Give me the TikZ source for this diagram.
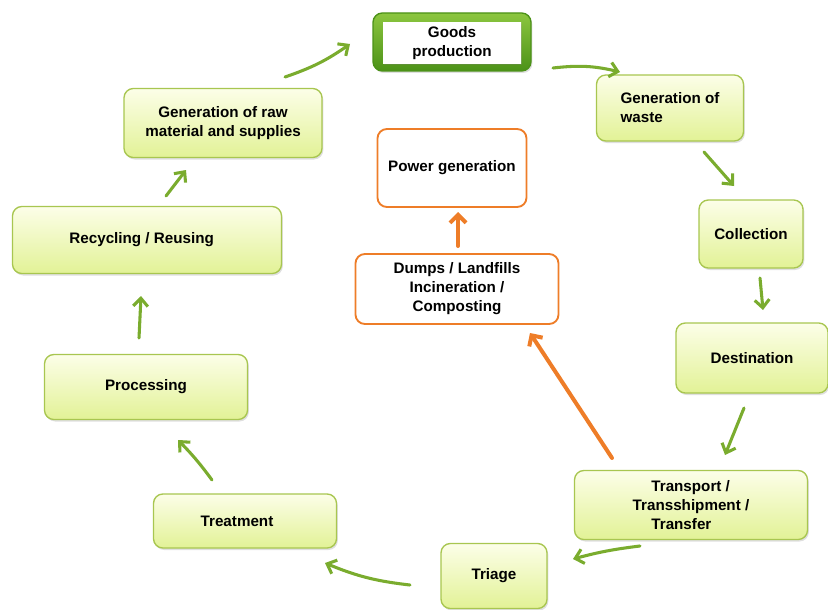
\documentclass[tikz,border=0pt]{standalone}
\usepackage{fontspec}
\setmainfont{Liberation Sans}
\usetikzlibrary{arrows.meta,shadows}

\definecolor{boxedge}{RGB}{168,198,80}
\definecolor{boxtop}{RGB}{252,254,232}
\definecolor{boxbottom}{RGB}{226,242,150}
\definecolor{leafgreen}{RGB}{122,172,46}
\definecolor{goodstop}{RGB}{140,198,63}
\definecolor{goodsbottom}{RGB}{76,146,24}
\definecolor{burnorange}{RGB}{238,125,40}

\tikzset{
  stagebox/.style={draw=boxedge, line width=1pt, rounded corners=7pt,
    top color=boxtop, bottom color=boxbottom,
    drop shadow={opacity=0.25, shadow xshift=1pt, shadow yshift=-1.5pt},
    font=\bfseries\fontsize{11.4}{14.2}\selectfont, inner sep=0pt, align=center},
  endbox/.style={draw=burnorange, line width=1.4pt, rounded corners=7pt, fill=white,
    font=\bfseries\fontsize{11.4}{14.2}\selectfont, inner sep=0pt, align=center},
  flow/.style={leafgreen, line width=2.3pt, line cap=round,
    -{Straight Barb[length=6pt,width=11pt,line width=2.3pt]}},
  heat/.style={burnorange, line width=3pt, line cap=round,
    -{Straight Barb[length=6pt,width=12pt,line width=3pt]}},
}

\begin{document}
\begin{tikzpicture}[x=0.75pt,y=0.75pt,yscale=-1,xscale=1]
\useasboundingbox (0,0) rectangle (828,610);

% cycle boxes
\node[draw=goodsbottom, line width=1pt, rounded corners=7pt, top color=goodstop, bottom color=goodsbottom,
  drop shadow={opacity=0.25, shadow xshift=1pt, shadow yshift=-1.5pt},
  minimum width=118.5pt, minimum height=43.5pt] (goodsframe) at (452,42) {};
\node[stagebox, draw=none, top color=white, bottom color=white, rounded corners=0pt, drop shadow={opacity=0},
  minimum width=103.5pt, minimum height=30.75pt] (goods) at (452,43) {Goods\\production};
\node[stagebox, align=left, minimum width=110.25pt, minimum height=49.5pt] (waste) at (670,108) {Generation of\\waste};
\node[stagebox, minimum width=78pt, minimum height=51pt] (collect) at (751,234) {Collection};
\node[stagebox, minimum width=114pt, minimum height=52.5pt] (dest) at (752,358) {Destination};
\node[stagebox, align=left, minimum width=174.75pt, minimum height=51.75pt] (transport) at (691,505)
  {\hspace*{14pt}Transport /\\Transshipment /\\\hspace*{14pt}Transfer};
\node[stagebox, minimum width=79.5pt, minimum height=48.75pt] (triage) at (494,576) {Triage};
\node[stagebox, minimum width=137.25pt, minimum height=40.5pt] (treat) at (245,521) {\hspace*{-12pt}Treatment};
\node[stagebox, minimum width=152.25pt, minimum height=48.75pt] (process) at (146,387) {Processing};
\node[stagebox, minimum width=201.75pt, minimum height=50.25pt] (recycle) at (147,240) {\hspace*{-8pt}Recycling / Reusing};
\node[stagebox, minimum width=148.5pt, minimum height=51.75pt] (raw) at (223,123) {Generation of raw\\material and supplies};

% disposal boxes
\node[endbox, minimum width=111.75pt, minimum height=58.5pt] (power) at (452,168) {Power generation};
\node[endbox, minimum width=152.25pt, minimum height=52.5pt] (dumps) at (457,289) {Dumps / Landfills\\Incineration /\\Composting};

% arrow ends
\coordinate (a1s) at (285,77);   \coordinate (a1e) at (350,44);
\coordinate (a2s) at (553,68);   \coordinate (a2e) at (620,72);
\coordinate (a3s) at (704,152);  \coordinate (a3e) at (734,186);
\coordinate (a4s) at (760,278);  \coordinate (a4e) at (763,310);
\coordinate (a5s) at (744,408);  \coordinate (a5e) at (725,455);
\coordinate (a6s) at (640,546);  \coordinate (a6e) at (573,559);
\coordinate (a7s) at (410,585);  \coordinate (a7e) at (325,563);
\coordinate (a8s) at (212,480);  \coordinate (a8e) at (178,440);
\coordinate (a9s) at (139,338);  \coordinate (a9e) at (141,296);
\coordinate (a10s) at (166,196); \coordinate (a10e) at (186,170);
\coordinate (o1s) at (612,458);  \coordinate (o1e) at (530,333);
\coordinate (o2s) at (458,246);  \coordinate (o2e) at (458,212);

% green cycle
\draw[flow] (a1s) to[bend left=8] (a1e);
\draw[flow] (a2s) to[bend right=10] (a2e);
\draw[flow] (a3s) -- (a3e);
\draw[flow] (a4s) -- (a4e);
\draw[flow] (a5s) -- (a5e);
\draw[flow] (a6s) to[bend left=4] (a6e);
\draw[flow] (a7s) to[bend right=8] (a7e);
\draw[flow] (a8s) to[bend left=4] (a8e);
\draw[flow] (a9s) -- (a9e);
\draw[flow] (a10s) -- (a10e);

% orange branch
\draw[heat] (o1s) -- (o1e);
\draw[heat] (o2s) -- (o2e);

\end{tikzpicture}
\end{document}
